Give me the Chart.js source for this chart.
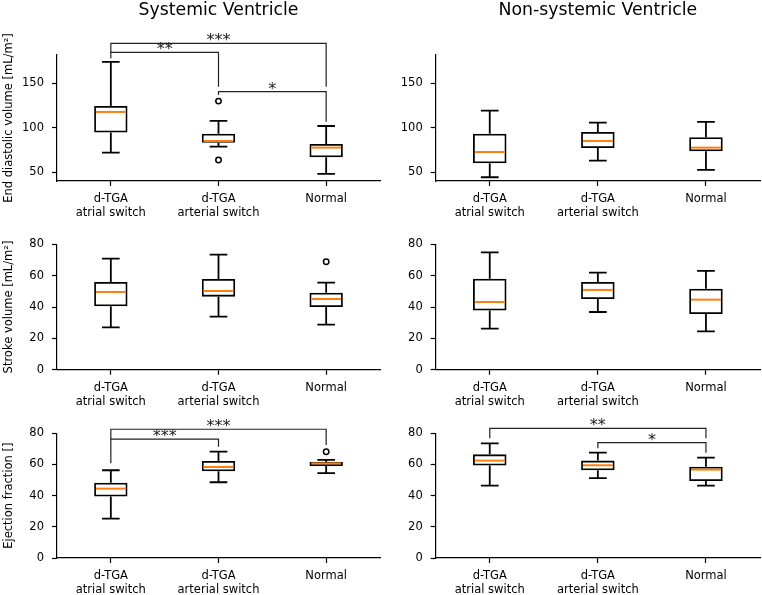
<!DOCTYPE html>
<html>
<head>
<meta charset="utf-8">
<script src="https://cdn.jsdelivr.net/npm/chart.js@4.4.1/dist/chart.umd.min.js"></script>
<style>
  html, body { margin: 0; padding: 0; background: #fff; }
  #wrap { position: relative; width: 762px; height: 595px; }
  #wrap canvas { position: absolute; left: 0; top: 0; }
</style>
</head>
<body>
<div id="wrap">
  <canvas id="c00" width="762" height="595"></canvas>
  <canvas id="c01" width="762" height="595"></canvas>
  <canvas id="c10" width="762" height="595"></canvas>
  <canvas id="c11" width="762" height="595"></canvas>
  <canvas id="c20" width="762" height="595"></canvas>
  <canvas id="c21" width="762" height="595"></canvas>
</div>
<script>
const categories = [['d-TGA', 'atrial switch'], ['d-TGA', 'arterial switch'], ['Normal']];
const columnTitles = ['Systemic Ventricle', 'Non-systemic Ventricle'];
const rowLabels = ['End diastolic volume [mL/m²]', 'Stroke volume [mL/m²]', 'Ejection fraction []'];
const edvTicks = [50, 100, 150];
const pctTicks = [0, 20, 40, 60, 80];

// [lower whisker, Q1, median, Q3, upper whisker] for each group
const edvSys = [[72, 94.6, 117.8, 124.5, 174], [78.8, 83.3, 85.2, 93.4, 107.8], [48.1, 66.9, 77.7, 81.8, 102]];
const edvNonSys = [[44.4, 60.1, 72.8, 93.4, 119.3], [63.1, 77.3, 85.2, 95.3, 105.7], [52.6, 73.6, 77.7, 89.3, 106.6]];
const svSys = [[27, 40.4, 49.6, 56, 70.9], [33.8, 46.6, 50.2, 57.9, 73.4], [28.7, 40, 45.1, 49.1, 55.5]];
const svNonSys = [[26.2, 37.7, 43.2, 58.1, 74.9], [36.8, 45.1, 50.9, 56, 61.9], [24.5, 35.5, 44.7, 51.7, 63]];
const efSys = [[25.2, 39.4, 44.5, 48.3, 56.3], [48.6, 55.6, 58.4, 62.2, 68.2], [54.5, 59, 60.7, 61.6, 62.9]];
const efNonSys = [[46.4, 59.3, 62.5, 66.5, 73.6], [51.3, 56.3, 59.5, 62.5, 67.6], [46.4, 49.4, 56.7, 58.6, 64.4]];

// outliers for each group
const edvSysOut = [[], [130, 63.8], []];
const svSysOut = [[], [], [68.9]];
const efSysOut = [[], [], [68.2]];
const noOut = [[], [], []];

// significance brackets: [from, to, bar height, left leg end, right leg end, label]
const edvSysSig = [[0, 2, 194.9, 184.8, 146.2, '***'], [0, 1, 184.8, 178.1, 146.2, '**'], [1, 2, 140.6, 136.9, 106.9, '*']];
const efSysSig = [[0, 2, 82.6, 76.2, 72.5, '***'], [0, 1, 76.2, 60.8, 71.4, '***']];
const efNonSysSig = [[0, 2, 83.2, 76.8, 76.8, '**'], [1, 2, 74, 70.4, 67.6, '*']];

// layout of the 3x2 grid (pixels) and axis ranges
const rowTop = [55, 244.3, 433.3];
const rowBottom = [181, 369.7, 558];
const colLeft = [57, 435.7];
const colRight = [380, 760];
const rowMin = [40.2, 0, 0];
const rowMax = [181.8, 80, 80];
const rowTicks = [edvTicks, pctTicks, pctTicks];

const family = 'DejaVu Sans';

// whiskers, caps, medians and significance brackets
const boxExtras = {
  id: 'boxExtras',
  afterDatasetsDraw(chart, args, opts) {
    const { ctx, scales: { x, y } } = chart;
    const step = x.getPixelForValue(1) - x.getPixelForValue(0);
    ctx.save();
    opts.stats.forEach((s, i) => {
      const cx = x.getPixelForValue(i);
      const [lo, q1, med, q3, hi] = s.map(v => y.getPixelForValue(v));
      ctx.strokeStyle = '#000';
      ctx.lineWidth = 1.8;
      ctx.beginPath();
      ctx.moveTo(cx, q1); ctx.lineTo(cx, lo);
      ctx.moveTo(cx, q3); ctx.lineTo(cx, hi);
      ctx.moveTo(cx - step * 0.082, lo); ctx.lineTo(cx + step * 0.082, lo);
      ctx.moveTo(cx - step * 0.082, hi); ctx.lineTo(cx + step * 0.082, hi);
      ctx.stroke();
      ctx.strokeStyle = '#ff7f0e';
      ctx.lineWidth = 2;
      ctx.beginPath();
      ctx.moveTo(cx - step * 0.155 + 1.8, med); ctx.lineTo(cx + step * 0.155 - 1.8, med);
      ctx.stroke();
    });
    ctx.strokeStyle = '#222';
    ctx.fillStyle = '#222';
    ctx.lineWidth = 1.2;
    ctx.font = '16px "' + family + '"';
    ctx.textAlign = 'center';
    ctx.textBaseline = 'alphabetic';
    opts.sig.forEach(([a, b, h, la, rb, label]) => {
      const xa = x.getPixelForValue(a), xb = x.getPixelForValue(b);
      const yh = y.getPixelForValue(h);
      ctx.beginPath();
      ctx.moveTo(xa, y.getPixelForValue(la));
      ctx.lineTo(xa, yh);
      ctx.lineTo(xb, yh);
      ctx.lineTo(xb, y.getPixelForValue(rb));
      ctx.stroke();
      ctx.fillText(label, (xa + xb) / 2, yh + 2);
    });
    ctx.restore();
  }
};

function makePanel(id, row, col, stats, outliers, sig) {
  const W = 762, H = 595, xAxisH = 36;
  const top = rowTop[row], bottom = rowBottom[row];
  const left = colLeft[col], right = colRight[col];
  const padLeft = col === 0 ? 0 : 380;
  const hasTitle = row === 0;
  const titleSize = 17.3;
  const outPts = [];
  outliers.forEach((vals, i) => vals.forEach(v => outPts.push({ x: i, y: v })));

  const axisGrid = { drawOnChartArea: false, drawTicks: true, tickLength: 5, tickColor: '#000', tickWidth: 1.2 };
  const axisBorder = { display: true, color: '#000', width: 1.2 };
  const tickFont = { family: family, size: 11.5 };

  return new Chart(document.getElementById(id), {
    type: 'bar',
    data: {
      labels: categories,
      datasets: [
        {
          data: stats.map(s => [s[1], s[3]]),
          backgroundColor: 'rgba(0,0,0,0)',
          borderColor: '#000',
          borderWidth: 1.8,
          borderSkipped: false,
          barPercentage: 0.31,
          categoryPercentage: 1
        },
        {
          type: 'line',
          data: outPts,
          parsing: false,
          showLine: false,
          pointRadius: 2.7,
          pointBorderWidth: 1.5,
          pointBorderColor: '#000',
          pointBackgroundColor: 'rgba(0,0,0,0)'
        }
      ]
    },
    options: {
      responsive: false,
      animation: false,
      events: [],
      layout: {
        padding: { left: padLeft, right: W - right, top: hasTitle ? 0 : top, bottom: H - bottom - xAxisH }
      },
      plugins: {
        legend: { display: false },
        tooltip: { enabled: false },
        title: {
          display: hasTitle,
          text: columnTitles[col],
          fullSize: false,
          color: '#000',
          font: { family: family, size: titleSize, weight: 'normal', lineHeight: 1.2 },
          padding: { top: 0, bottom: top - titleSize * 1.2 }
        },
        boxExtras: { stats: stats, sig: sig }
      },
      scales: {
        x: {
          type: 'category',
          offset: true,
          grid: Object.assign({ offset: false }, axisGrid),
          border: axisBorder,
          ticks: { color: '#000', font: tickFont, padding: 6.5, maxRotation: 0, autoSkip: false },
          afterFit: s => { s.height = xAxisH; }
        },
        y: {
          min: rowMin[row],
          max: rowMax[row],
          grid: axisGrid,
          border: axisBorder,
          ticks: { color: '#000', font: tickFont, padding: 8 },
          afterBuildTicks: s => { s.ticks = rowTicks[row].map(v => ({ value: v })); },
          title: {
            display: col === 0,
            text: rowLabels[row],
            color: '#000',
            font: { family: family, size: 11.5 },
            padding: { top: 2, bottom: 0 }
          },
          afterFit: s => { s.width = left - padLeft; }
        }
      }
    },
    plugins: [boxExtras]
  });
}

makePanel('c00', 0, 0, edvSys, edvSysOut, edvSysSig);
makePanel('c01', 0, 1, edvNonSys, noOut, []);
makePanel('c10', 1, 0, svSys, svSysOut, []);
makePanel('c11', 1, 1, svNonSys, noOut, []);
makePanel('c20', 2, 0, efSys, efSysOut, efSysSig);
makePanel('c21', 2, 1, efNonSys, noOut, efNonSysSig);
</script>
</body>
</html>
